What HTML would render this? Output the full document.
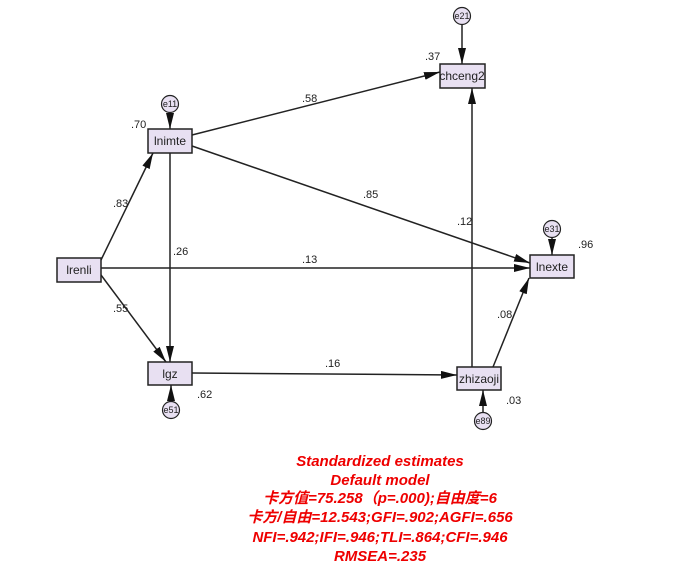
<!DOCTYPE html>
<html><head><meta charset="utf-8"><style>
body{margin:0;background:#fff}
svg text{font-family:"Liberation Sans",Arial,sans-serif}
.n{font-size:11px;fill:#222}
.b{fill:#e8e0f2;stroke:#222;stroke-width:1.5}
.l{font-size:12px;fill:#222}
.c{fill:#e8e0f2;stroke:#222;stroke-width:1.2}
.e{font-size:9px;fill:#222}
.r{font-size:15px;fill:#e00;font-weight:bold;font-style:italic;font-family:"Liberation Sans","Noto Sans CJK SC",sans-serif}
</style></head><body>
<svg width="695" height="581" xmlns="http://www.w3.org/2000/svg">
<defs><marker id="a" markerWidth="10" markerHeight="8" refX="10" refY="4" orient="auto" markerUnits="userSpaceOnUse"><path d="M0,0 L16,4 L0,8z" fill="#111"/></marker>
<marker id="m" viewBox="0 0 16 8" markerWidth="16" markerHeight="8" refX="16" refY="4" orient="auto" markerUnits="userSpaceOnUse"><path d="M0,0 L16,4 L0,8z" fill="#111"/></marker></defs>
<g stroke="#222" stroke-width="1.5" fill="none" marker-end="url(#m)">
<line x1="192" y1="135" x2="440" y2="72"/>
<line x1="192" y1="146" x2="530" y2="263"/>
<line x1="101" y1="268" x2="530" y2="268"/>
<line x1="101" y1="260" x2="153" y2="153"/>
<line x1="101" y1="275" x2="166" y2="362"/>
<line x1="170" y1="153" x2="170" y2="362"/>
<line x1="192" y1="373" x2="457" y2="375"/>
<line x1="472" y1="367" x2="472" y2="88"/>
<line x1="493" y1="367" x2="529" y2="278"/>
<line x1="170" y1="113" x2="170" y2="129"/>
<line x1="462" y1="25" x2="462" y2="64"/>
<line x1="552" y1="238" x2="552" y2="255"/>
<line x1="171" y1="401" x2="171" y2="385"/>
<line x1="483" y1="412" x2="483" y2="390"/>
</g>
<rect class="b" x="148" y="129" width="44" height="24"/><text class="l" x="170" y="145" text-anchor="middle">lnimte</text>
<rect class="b" x="57" y="258" width="44" height="24"/><text class="l" x="79" y="274" text-anchor="middle">lrenli</text>
<rect class="b" x="440" y="64" width="45" height="24"/><text class="l" x="462" y="80" text-anchor="middle">chceng2</text>
<rect class="b" x="530" y="255" width="44" height="23"/><text class="l" x="552" y="271" text-anchor="middle">lnexte</text>
<rect class="b" x="457" y="367" width="44" height="23"/><text class="l" x="479" y="383" text-anchor="middle">zhizaoji</text>
<rect class="b" x="148" y="362" width="44" height="23"/><text class="l" x="170" y="378" text-anchor="middle">lgz</text>
<circle class="c" cx="170" cy="104" r="8.5"/><text class="e" x="170" y="107" text-anchor="middle">e11</text>
<circle class="c" cx="462" cy="16" r="8.5"/><text class="e" x="462" y="19" text-anchor="middle">e21</text>
<circle class="c" cx="552" cy="229" r="8.5"/><text class="e" x="552" y="232" text-anchor="middle">e31</text>
<circle class="c" cx="171" cy="410" r="8.5"/><text class="e" x="171" y="413" text-anchor="middle">e51</text>
<circle class="c" cx="483" cy="421" r="8.5"/><text class="e" x="483" y="424" text-anchor="middle">e89</text>
<g class="n">
<text x="131" y="128">.70</text><text x="425" y="60">.37</text><text x="578" y="248">.96</text>
<text x="197" y="398">.62</text><text x="506" y="404">.03</text>
<text x="302" y="102">.58</text><text x="363" y="198">.85</text><text x="113" y="207">.83</text>
<text x="173" y="255">.26</text><text x="302" y="263">.13</text><text x="457" y="225">.12</text>
<text x="113" y="312">.55</text><text x="325" y="367">.16</text><text x="497" y="318">.08</text>
</g>
<g text-anchor="middle">
<text class="r" x="380" y="466">Standardized estimates</text>
<text class="r" x="380" y="485">Default model</text>
<text class="r" x="380" y="503">卡方值=75.258（p=.000);自由度=6</text>
<text class="r" x="380" y="522">卡方/自由=12.543;GFI=.902;AGFI=.656</text>
<text class="r" x="380" y="542">NFI=.942;IFI=.946;TLI=.864;CFI=.946</text>
<text class="r" x="380" y="561">RMSEA=.235</text>
</g>
</svg></body></html>
